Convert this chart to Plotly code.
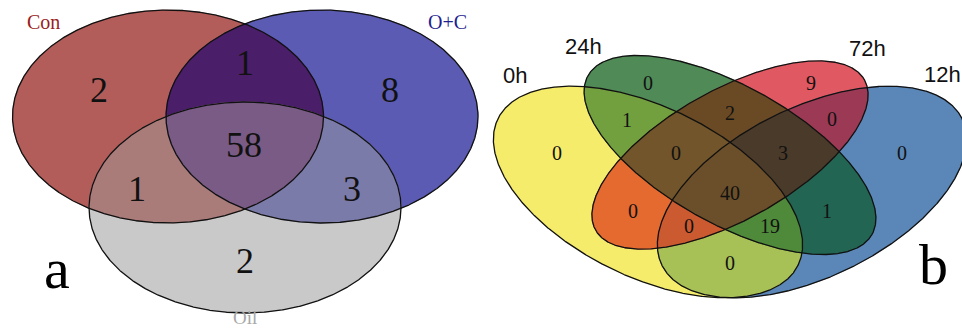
import numpy as np
import plotly.graph_objects as go

# ---------------- data ----------------
# Panel a: three-set Venn (Con, O+C, Oil)
sets_a = ["Con", "O+C", "Oil"]
regions_a = [("Con",), ("O+C",), ("Oil",),
             ("Con", "O+C"), ("Con", "Oil"), ("O+C", "Oil"),
             ("Con", "O+C", "Oil")]
counts_a = [2, 8, 2, 1, 1, 3, 58]

# Panel b: four-set Venn (0h, 24h, 72h, 12h)
sets_b = ["0h", "24h", "72h", "12h"]
regions_b = [("0h",), ("24h",), ("72h",), ("12h",),
             ("0h", "24h"), ("0h", "72h"), ("0h", "12h"),
             ("24h", "72h"), ("24h", "12h"), ("72h", "12h"),
             ("0h", "24h", "72h"), ("0h", "24h", "12h"),
             ("0h", "72h", "12h"), ("24h", "72h", "12h"),
             ("0h", "24h", "72h", "12h")]
counts_b = [0, 0, 9, 0, 1, 0, 0, 2, 1, 0, 0, 19, 0, 3, 40]

# ---------------- layout / style ----------------
# ellipse geometry in page pixels: centre x, centre y, semi-axis a, semi-axis b, tilt (deg, clockwise)
geom = {
    "Con": (168, 116.5, 155.5, 106.5, 0),
    "O+C": (322, 116.5, 156, 106.5, 0),
    "Oil": (245, 207.5, 156, 105.5, 0),
    "0h": (648, 192, 167, 85, 26),
    "24h": (730, 155, 162.7, 68.8, 29.2),
    "72h": (730, 155, 154, 65, -29.2),
    "12h": (812, 192, 167, 85, -26),
}

region_colors = {
    ("Con",): "#b35d5b", ("O+C",): "#5b5bb3", ("Oil",): "#c9c9c9",
    ("Con", "O+C"): "#4a1e69", ("Con", "Oil"): "#a97b79",
    ("O+C", "Oil"): "#7b7ba9", ("Con", "O+C", "Oil"): "#7a5b85",
    ("0h",): "#f6ec6c", ("24h",): "#4f8a57", ("72h",): "#e05862", ("12h",): "#5a87b8",
    ("0h", "24h"): "#72a03f", ("0h", "72h"): "#e56a30", ("0h", "12h"): "#a8c156",
    ("24h", "72h"): "#694a24", ("24h", "12h"): "#226552", ("72h", "12h"): "#9c3a56",
    ("0h", "24h", "72h"): "#72552a", ("0h", "24h", "12h"): "#4f8a3a",
    ("0h", "72h", "12h"): "#cc5a30", ("24h", "72h", "12h"): "#4a3a2a",
    ("0h", "24h", "72h", "12h"): "#6b4f2a",
}

# anchor of each count label (page pixels)
label_pos = {
    ("Con",): (99, 90), ("O+C",): (390, 90), ("Oil",): (245, 261),
    ("Con", "O+C"): (245, 63), ("Con", "Oil"): (137, 189),
    ("O+C", "Oil"): (352, 189), ("Con", "O+C", "Oil"): (244, 145),
    ("0h",): (557, 153), ("24h",): (648, 83), ("72h",): (811, 83), ("12h",): (902, 153),
    ("0h", "24h"): (627, 120), ("0h", "72h"): (633, 211), ("0h", "12h"): (730, 263),
    ("24h", "72h"): (730, 113), ("24h", "12h"): (827, 211), ("72h", "12h"): (832, 119),
    ("0h", "24h", "72h"): (676, 153), ("0h", "24h", "12h"): (770, 226),
    ("0h", "72h", "12h"): (689, 226), ("24h", "72h", "12h"): (783, 153),
    ("0h", "24h", "72h", "12h"): (730, 193),
}

set_labels = {
    "Con": dict(x=43, y=22, color="#9a1c1c", family="Liberation Serif", size=20),
    "O+C": dict(x=447, y=22, color="#1f1f8f", family="Liberation Serif", size=20),
    "0h": dict(x=515, y=75, color="#111111", family="Liberation Sans", size=22),
    "24h": dict(x=583, y=46, color="#111111", family="Liberation Sans", size=22),
    "72h": dict(x=867, y=48, color="#111111", family="Liberation Sans", size=22),
    "12h": dict(x=942, y=74, color="#111111", family="Liberation Sans", size=22),
}


# ---------------- geometry helpers ----------------
def ellipse_points(name, n=1441):
    cx, cy, a, b, tilt = geom[name]
    t = np.linspace(0, 2 * np.pi, n)
    th = np.radians(tilt)
    x = cx + a * np.cos(t) * np.cos(th) - b * np.sin(t) * np.sin(th)
    y = cy + a * np.cos(t) * np.sin(th) + b * np.sin(t) * np.cos(th)
    return x, y


def inside(name, x, y, tol=1e-9):
    cx, cy, a, b, tilt = geom[name]
    th = np.radians(tilt)
    dx, dy = x - cx, y - cy
    u = dx * np.cos(th) + dy * np.sin(th)
    v = -dx * np.sin(th) + dy * np.cos(th)
    return (u / a) ** 2 + (v / b) ** 2 <= 1 + tol


def intersection_polygon(names):
    xs, ys = [], []
    for nm in names:
        x, y = ellipse_points(nm)
        mask = np.ones_like(x, dtype=bool)
        for other in names:
            if other != nm:
                mask &= inside(other, x, y, 1e-6)
        xs.append(x[mask])
        ys.append(y[mask])
    x = np.concatenate(xs)
    y = np.concatenate(ys)
    mx, my = x.mean(), y.mean()
    order = np.argsort(np.arctan2(y - my, x - mx))
    x, y = x[order], y[order]
    return np.append(x, x[0]), np.append(y, y[0])


fig = go.Figure()

# regions painted from single sets up to the full intersection,
# so each area ends with the colour of its exact membership
for regions in (regions_a, regions_b):
    for reg in sorted(regions, key=len):
        px, py = intersection_polygon(reg)
        fig.add_trace(go.Scatter(
            x=px, y=py, mode="lines", fill="toself",
            fillcolor=region_colors[reg],
            line=dict(width=0.6, color=region_colors[reg]),
            hoverinfo="skip", showlegend=False))

# black outlines
for nm in sets_a + sets_b:
    ex, ey = ellipse_points(nm)
    fig.add_trace(go.Scatter(
        x=ex, y=ey, mode="lines",
        line=dict(width=1.3, color="#111111"),
        hoverinfo="skip", showlegend=False))

annotations = []
for regions, counts, size in ((regions_a, counts_a, 36), (regions_b, counts_b, 20)):
    for reg, cnt in zip(regions, counts):
        x, y = label_pos[reg]
        annotations.append(dict(
            x=x, y=y, xref="x", yref="y", text=str(cnt), showarrow=False,
            font=dict(family="Liberation Serif", size=size, color="#111111")))

for nm, st in set_labels.items():
    annotations.append(dict(
        x=st["x"], y=st["y"], xref="x", yref="y", text=nm, showarrow=False,
        font=dict(family=st["family"], size=st["size"], color=st["color"])))

# the Oil set name sits on the bottom edge of the page
annotations.append(dict(
    x=245, y=329, xref="x", yref="y", yanchor="bottom", borderpad=0,
    text="Oil", showarrow=False,
    font=dict(family="Liberation Serif", size=19, color="#a8a8a8")))

# panel letters
for letter, x, y in (("a", 57, 268), ("b", 933, 264)):
    annotations.append(dict(
        x=x, y=y, xref="x", yref="y", text=letter, showarrow=False,
        font=dict(family="Liberation Serif", size=58, color="#000000")))

fig.update_layout(
    width=962, height=329,
    margin=dict(l=0, r=0, t=0, b=0),
    paper_bgcolor="white", plot_bgcolor="white",
    xaxis=dict(range=[0, 962], visible=False, fixedrange=True),
    yaxis=dict(range=[329, 0], visible=False, fixedrange=True),
    annotations=annotations,
    showlegend=False,
)

fig.write_html("out.html")
